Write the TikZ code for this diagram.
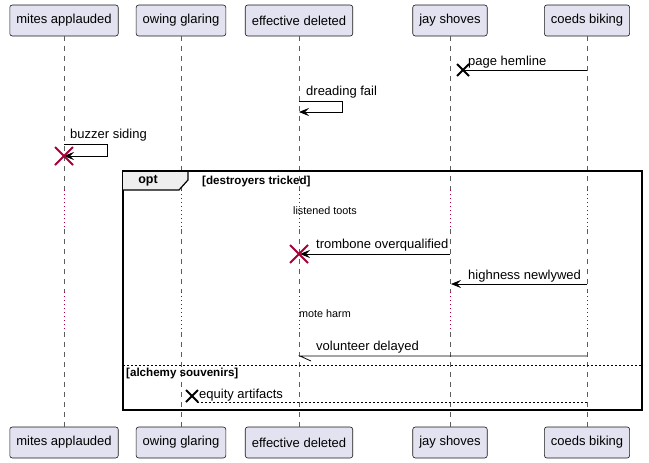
\documentclass[tikz,border=0pt]{standalone}
\usepackage{fontspec}
\setmainfont{Liberation Sans}
\usepackage{xcolor}
\usetikzlibrary{arrows.meta}
\definecolor{partfill}{HTML}{E2E2F0}
\definecolor{partline}{HTML}{181818}
\definecolor{killred}{HTML}{A80036}
\definecolor{tabfill}{HTML}{EEEEEE}

\begin{document}
\begin{tikzpicture}[x=1pt,y=-1pt,
	part/.style={draw=partline,line width=0.6pt,fill=partfill,rounded corners=2.5pt,
		minimum height=31pt,inner xsep=6.5pt,font=\fontsize{13}{15}\selectfont},
	life/.style={partline!70,dash pattern=on 5pt off 5pt,line width=0.6pt},
	lifedelay/.style={killred,dash pattern=on 1pt off 3pt,line width=0.9pt},
	msg/.style={line width=0.8pt,-{Stealth[length=10pt,width=8pt,inset=4pt]}},
	lbl/.style={font=\fontsize{13}{15}\selectfont,inner sep=0pt},
	note/.style={font=\fontsize{10.8}{12}\selectfont,inner sep=0pt},
	cond/.style={font=\fontsize{11.6}{13}\selectfont\bfseries,inner sep=0pt},
	killx/.style={killred,line width=2pt},
	lostx/.style={black,line width=2pt}]
			\useasboundingbox (0,0) rectangle (649,463);
			\foreach \n/\x/\t in
			{mit/64/mites applauded, owi/181/owing glaring, eff/299/effective deleted, jay/450/jay shoves, coe/587/coeds biking}{
				\node[part] (\n) at (\x,20.5) {\t};
				\node[part] (\n-b) at (\x,442.5) {\t};
				\coordinate (\n-1) at (\x,190);
				\coordinate (\n-2) at (\x,229);
				\coordinate (\n-3) at (\x,292);
				\coordinate (\n-4) at (\x,332);
				\draw[life] (\n.south) -- (\n-1) (\n-2) -- (\n-3) (\n-4) -- (\n-b.north);
				\draw[lifedelay] (\n-1) -- (\n-2) (\n-3) -- (\n-4);
			}
			
			\coordinate (h1) at (463,70);
			\draw[line width=0.8pt] (coe |- h1) -- (h1);
			\draw[lostx] (h1) +(-6,-6) -- +(6,6) +(-6,6) -- +(6,-6);
			\node[lbl,anchor=base west] (l1) at (468,65) {page hemline};
			
			\coordinate (d1) at (342,101);
			\coordinate (d2) at (342,112);
			\draw[msg] (eff |- d1) -- (d1) -- (d2) -- (eff |- d2);
			\node[lbl,anchor=base west] (l2) at (306,95) {dreading fail};
			
			\coordinate (b1) at (107,144);
			\coordinate (b2) at (107,156);
			\draw[msg] (mit |- b1) -- (b1) -- (b2) -- (mit |- b2);
			\draw[killx] (mit |- b2) +(-9,-9) -- +(9,9) +(-9,9) -- +(9,-9);
			\node[lbl,anchor=base west] (l3) at (70,138) {buzzer siding};
			
			\draw[line width=1.5pt] (123,171) rectangle (642,410);
			\draw[line width=1.2pt,fill=tabfill] (123,171) -- (188,171) -- (188,180) -- (179,190) -- (123,190);
			\draw[line width=1.5pt] (123,171) -- (188,171);
			\node[font=\fontsize{12.5}{14}\selectfont\bfseries,inner sep=0pt] (fopt) at (148,181) {opt};
			\node[cond,anchor=west] (fc1) at (202,181) {[destroyers tricked]};
			\node[note,anchor=west] (n1) at (293,211) {listened toots};
			
			\coordinate (t1) at (300,254);
			\draw[msg] (jay |- t1) -- (t1);
			\draw[killx] (eff |- t1) +(-9,-9) -- +(9,9) +(-9,9) -- +(9,-9);
			\node[lbl,anchor=base west] (l4) at (316,248) {trombone overqualified};
			
			\coordinate (n2) at (451,284);
			\draw[msg] (coe |- n2) -- (n2);
			\node[lbl,anchor=base west] (l5) at (468,279) {highness newlywed};
			
			\node[note,anchor=west] (n3) at (299,314) {mote harm};
			
			\coordinate (v1) at (300,356);
			\draw[line width=0.8pt] (coe |- v1) -- (v1) -- ++(11,5);
			\node[lbl,anchor=base west] (l6) at (316,350) {volunteer delayed};
			
			\draw[line width=0.8pt,dash pattern=on 2pt off 2pt] (123,365) -- (642,365);
			\node[cond,anchor=west] (fc2) at (126,373) {[alchemy souvenirs]};
			
			\coordinate (e1) at (192,396);
			\coordinate (e2) at (196,402);
			\draw[line width=0.8pt,dash pattern=on 2pt off 2pt] (coe |- e2) -- (e2);
			\draw[lostx] (e1) +(-6,-6) -- +(6,6) +(-6,6) -- +(6,-6);
			\node[lbl,anchor=base west] (l7) at (199,398) {equity artifacts};
		\end{tikzpicture}
\end{document}
